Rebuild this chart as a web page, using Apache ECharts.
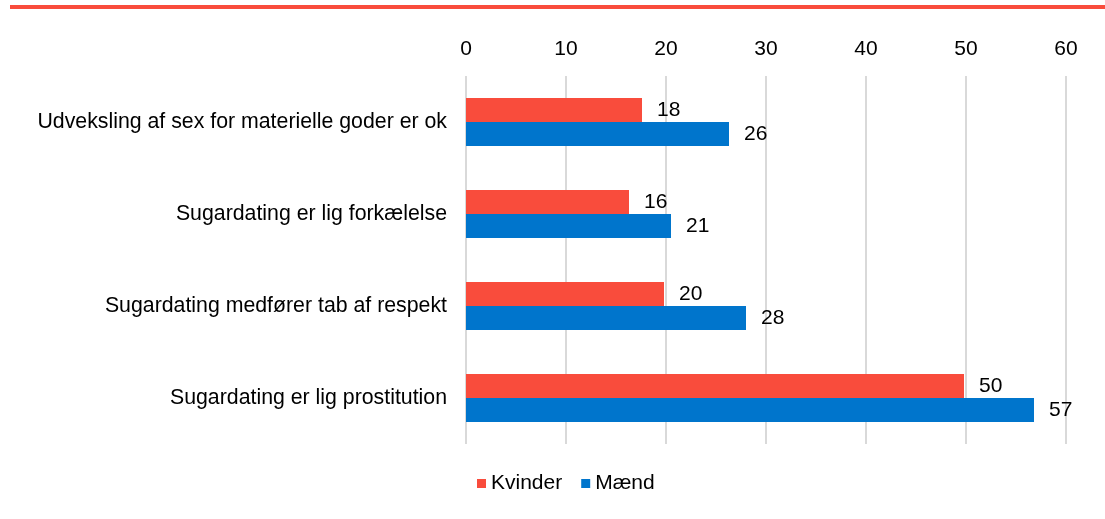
<!DOCTYPE html>
<html>
<head>
<meta charset="utf-8">
<script src="https://cdn.jsdelivr.net/npm/echarts@6/dist/echarts.min.js"></script>
<style>
  html, body { margin: 0; padding: 0; background: #fff; }
  #chart { width: 1105px; height: 519px; }
</style>
</head>
<body>
<div id="chart"></div>
<script>
/* Categories top to bottom */
const CATEGORIES = [
  'Udveksling af sex for materielle goder er ok',
  'Sugardating er lig forkælelse',
  'Sugardating medfører tab af respekt',
  'Sugardating er lig prostitution'
]
/* Values (labels show rounded numbers) */
const KVINDER = [17.6, 16.3, 19.8, 49.8]
const MAEND   = [26.3, 20.5, 28.0, 56.8]
const SERIES_NAMES = ['Kvinder', 'Mænd']
const COLORS = ['#f94c3c', '#0075cc']

const FONT = '"Liberation Sans", Arial, sans-serif'

const chart = echarts.init(document.getElementById('chart'))

const barLabel = {
  show: true,
  position: 'right',
  distance: 15,
  color: '#000',
  fontSize: 21,
  fontFamily: FONT,
  formatter: p => Math.round(p.value)
}

chart.setOption({
  animation: false,
  textStyle: { fontFamily: FONT },
  color: COLORS,
  graphic: [{
    /* red rule across the top */
    type: 'rect',
    left: 10, top: 5,
    shape: { width: 1095, height: 4 },
    style: { fill: '#f94c3c' }
  }],
  grid: { left: 466, right: 39, top: 76, height: 368 },
  legend: {
    data: SERIES_NAMES,
    left: 472,
    top: 468,
    icon: 'rect',
    itemWidth: 9,
    itemHeight: 9,
    itemGap: 19,
    textStyle: { color: '#000', fontSize: 21, fontFamily: FONT }
  },
  xAxis: {
    type: 'value',
    position: 'top',
    min: 0, max: 60, interval: 10,
    axisLine: { show: false },
    axisTick: { show: false },
    axisLabel: { color: '#000', fontSize: 21, margin: 16, fontFamily: FONT },
    splitLine: { show: true, lineStyle: { color: '#d9d9d9', width: 2 } }
  },
  yAxis: {
    type: 'category',
    inverse: true,
    data: CATEGORIES,
    axisLine: { show: false },
    axisTick: { show: false },
    axisLabel: { color: '#000', fontSize: 21.3, margin: 19, fontFamily: FONT }
  },
  series: [
    {
      name: SERIES_NAMES[0], type: 'bar', data: KVINDER,
      barWidth: 24, barGap: '0%',
      itemStyle: { color: COLORS[0] },
      label: barLabel
    },
    {
      name: SERIES_NAMES[1], type: 'bar', data: MAEND,
      barWidth: 24, barGap: '0%',
      itemStyle: { color: COLORS[1] },
      label: barLabel
    }
  ]
})
</script>
</body>
</html>
